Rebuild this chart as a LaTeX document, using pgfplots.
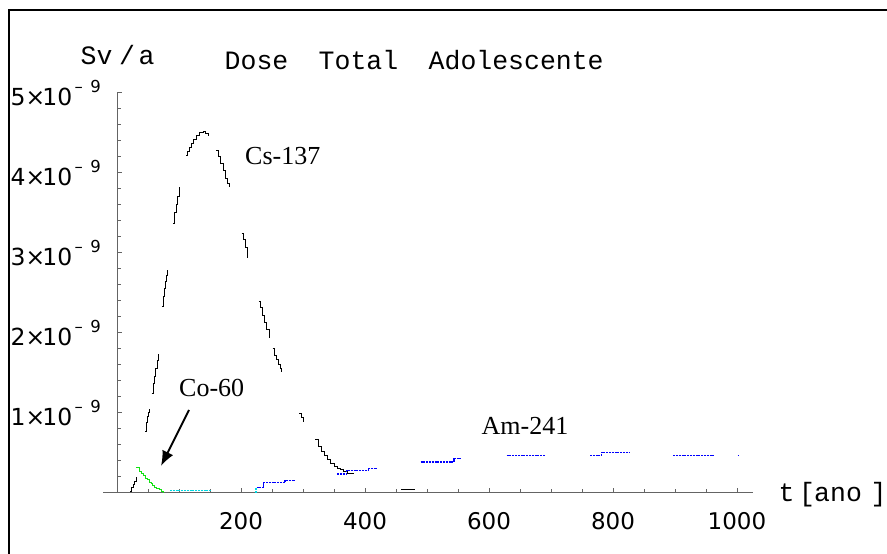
\documentclass[border=0pt]{standalone}
\usepackage{pgfplots}
\pgfplotsset{compat=1.18}
\usepackage{fontspec}
\usetikzlibrary{arrows.meta}
\setmainfont{Liberation Serif}
\newfontfamily\monofont{Liberation Mono}
\newfontfamily\tickfont{DejaVu Sans}
\definecolor{cogreen}{RGB}{20,225,20}
\definecolor{cocyan}{RGB}{0,215,225}
\definecolor{amblue}{RGB}{0,0,255}
\definecolor{axgray}{RGB}{100,100,100}

% rotulo do eixo y: N x 10^-9
\newcommand{\ylab}[1]{{\tickfont\fontsize{23.5}{23.5}\selectfont #1×\kern-0.12em10\kern0.1em\raisebox{13pt}{\fontsize{16.5}{16.5}\selectfont –\kern0.45em9}}}

\begin{document}
\begin{tikzpicture}
\useasboundingbox (0pt,0pt) rectangle (887pt,554pt);
\draw[line width=2pt] (9.2pt,0pt) -- (9.2pt,544.3pt) -- (887pt,544.3pt);

\begin{axis}[
  at={(103pt,61.3pt)}, anchor=south west,
  scale only axis, width=650pt, height=400pt,
  xmin=-22.6, xmax=1025.8, ymin=0, ymax=5e-9,
  axis lines=middle,
  axis line style={-, axgray, line width=1pt},
  tick align=inside,
  scaled y ticks=false,
  xtick={200,400,600,800,1000},
  xticklabels={200,400,600,800,1000},
  minor xtick={50,100,150,250,300,350,450,500,550,650,700,750,850,900,950},
  ytick={1e-9,2e-9,3e-9,4e-9,5e-9},
  yticklabels={\ylab{1},\ylab{2},\ylab{3},\ylab{4},\ylab{5}},
  minor ytick={0.2e-9,0.4e-9,0.6e-9,0.8e-9,1.2e-9,1.4e-9,1.6e-9,1.8e-9,2.2e-9,2.4e-9,2.6e-9,2.8e-9,3.2e-9,3.4e-9,3.6e-9,3.8e-9,4.2e-9,4.4e-9,4.6e-9,4.8e-9},
  major tick length=5pt, minor tick length=4pt,
  every tick/.style={axgray, line width=0.8pt},
  xticklabel style={font=\tickfont\fontsize{23}{23}\selectfont, inner sep=0pt, anchor=north, yshift=-20pt},
  yticklabel style={inner sep=0pt, anchor=east, xshift=-16pt},
  unbounded coords=jump, clip=false,
]

% Cs-137
\addplot[const plot, black, line width=0.9pt] coordinates {
 (21,0.01e-9) (23.5,0.06e-9) (26,0.1e-9) (28.5,0.14e-9) (31.8,0.2e-9)
 (31.9,nan)
 (45.2,0.77e-9) (47,0.88e-9) (49,0.95e-9) (50.5,1.0e-9) (52.1,1.05e-9)
 (52.2,nan)
 (56,1.24e-9) (58,1.36e-9) (60,1.45e-9) (62,1.55e-9) (64.5,1.65e-9) (66.6,1.73e-9)
 (66.7,nan)
 (72.4,2.33e-9) (74.5,2.45e-9) (76.5,2.55e-9) (78.5,2.64e-9) (80.5,2.72e-9) (82.1,2.78e-9)
 (82.2,nan)
 (90.8,3.37e-9) (93,3.5e-9) (95.5,3.6e-9) (98,3.7e-9) (101.5,3.82e-9)
 (101.6,nan)
 (111.3,4.21e-9) (114,4.27e-9) (117,4.32e-9) (120,4.37e-9) (124,4.42e-9) (128.5,4.46e-9) (133,4.5e-9) (139.2,4.52e-9) (143,4.49e-9) (147.3,4.46e-9)
 (147.4,nan)
 (159.7,4.28e-9) (163,4.2e-9) (167,4.12e-9) (171,4.03e-9) (175,3.93e-9) (178,3.86e-9) (181.1,3.82e-9)
 (181.2,nan)
 (201,3.24e-9) (204,3.16e-9) (207,3.06e-9) (210.8,2.93e-9)
 (210.9,nan)
 (229,2.39e-9) (232,2.32e-9) (235,2.22e-9) (238,2.13e-9) (241,2.04e-9) (245.6,1.93e-9)
 (245.7,nan)
 (251,1.8e-9) (254,1.72e-9) (257,1.66e-9) (260,1.6e-9) (263,1.55e-9) (265.6,1.51e-9)
 (265.7,nan)
 (294,0.99e-9) (297,0.94e-9) (300.5,0.88e-9)
 (300.6,nan)
 (319.4,0.66e-9) (325,0.58e-9) (330,0.51e-9) (335,0.46e-9) (340,0.41e-9) (345,0.37e-9) (350,0.33e-9) (355,0.3e-9) (360,0.29e-9) (365,0.27e-9) (372,0.24e-9) (381,0.23e-9)
 (381.1,nan)
 (458,0.04e-9) (481,0.04e-9)
};

% Co-60
\addplot[const plot, cogreen, line width=1pt] coordinates {
 (30.6,0.31e-9) (35,0.31e-9) (37,0.27e-9) (40,0.24e-9) (43,0.21e-9) (46,0.18e-9) (49,0.16e-9) (52,0.13e-9) (55,0.11e-9) (58,0.09e-9) (61,0.07e-9) (64,0.05e-9) (68,0.04e-9) (71,0.02e-9) (74.5,0.0)
};
\addplot[cocyan, line width=1.2pt, dash pattern=on 2pt off 0.8pt] coordinates {
 (85.5,0.025e-9) (152.7,0.025e-9)
 (152.8,nan)
 (224.2,0.0) (224.2,0.07e-9)
};

% Am-241
\addplot[const plot, amblue, line width=1.2pt, dash pattern=on 2pt off 0.8pt] coordinates {
 (225.3,0.067e-9) (236,0.125e-9) (271,0.155e-9) (287,0.155e-9)
 (287.1,nan)
 (355.3,0.234e-9) (370.5,0.275e-9) (405.3,0.305e-9) (419.8,0.305e-9)
 (419.9,nan)
 (489.8,0.384e-9) (543.5,0.425e-9) (556,0.425e-9)
 (556.1,nan)
 (628.5,0.4625e-9) (690.3,0.4625e-9)
 (690.4,nan)
 (763,0.4625e-9) (781.8,0.505e-9) (827.4,0.505e-9)
 (827.5,nan)
 (897,0.4625e-9) (964.5,0.4625e-9)
 (964.6,nan)
 (1001.5,0.4625e-9) (1002.5,0.4625e-9)
};
\end{axis}

% titulo e rotulos
\begin{scope}[every node/.style={inner sep=0pt, font=\monofont\fontsize{26.5}{26.5}\selectfont}]
\node[anchor=base west] at (80.5pt,489pt) {Sv};
\node[anchor=base] at (127pt,489pt) {/};
\node[anchor=base] at (146.5pt,489pt) {a};
\node[anchor=base west] at (224.5pt,484pt) {Dose};
\node[anchor=base west] at (318.5pt,484pt) {Total};
\node[anchor=base west] at (428.5pt,484pt) {Adolescente};
\node[anchor=base west] at (778.5pt,52pt) {t};
\node[anchor=base] at (807pt,52pt) {[};
\node[anchor=base west] at (814pt,52pt) {ano};
\node[anchor=base] at (878.5pt,52pt) {]};
\end{scope}

\begin{scope}[every node/.style={inner sep=0pt, anchor=base west, font=\fontsize{26}{26}\selectfont}]
\node at (245pt,389pt) {Cs-137};
\node at (179pt,157.3pt) {Co-60};
\node at (481.5pt,119pt) {Am-241};
\end{scope}

\draw[line width=2pt, -{Latex[length=15pt,width=12pt]}] (189pt,144pt) -- (161pt,88pt);
\end{tikzpicture}
\end{document}
